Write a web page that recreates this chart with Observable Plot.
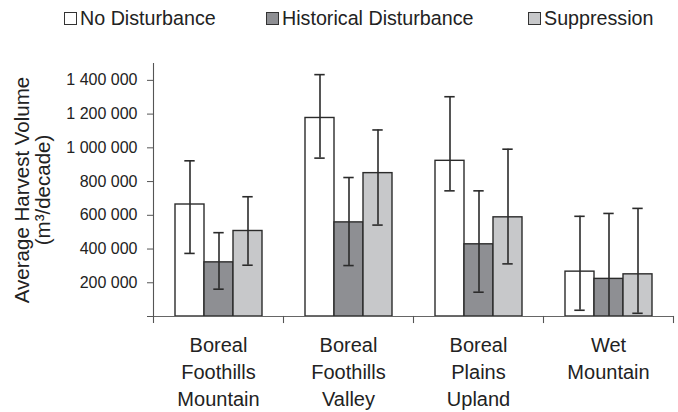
<!DOCTYPE html>
<html>
<head>
<meta charset="utf-8">
<script src="https://cdn.jsdelivr.net/npm/d3@7"></script>
<script src="https://cdn.jsdelivr.net/npm/@observablehq/plot@0.6"></script>
<style>
  body { margin: 0; background: #fff; font-family: "Liberation Sans", Arial, sans-serif; }
  #legend { position: relative; height: 40px; font-size: 19.7px; line-height: 19px; color: #222; white-space: nowrap; }
  #legend .item { position: absolute; top: 9px; }
  #legend .sw { display: inline-block; width: 13px; height: 13px; box-sizing: border-box; border: 1.3px solid #333; margin-right: 3px; vertical-align: baseline; }
</style>
</head>
<body>
<div id="legend"></div>
<div id="chart"></div>
<script>
// ---- data ----
const categories = ["Boreal\nFoothills\nMountain", "Boreal\nFoothills\nValley", "Boreal\nPlains\nUpland", "Wet\nMountain"];
const series = ["No Disturbance", "Historical Disturbance", "Suppression"];
const colors = ["#ffffff", "#8e8f93", "#c7c8ca"];

const meanNoDisturbance = [664000, 1177000, 923000, 266000];
const meanHistorical    = [321000, 558000, 428000, 223000];
const meanSuppression   = [507000, 850000, 588000, 250000];

const upperNoDisturbance = [923000, 1434000, 1303000, 594000];
const upperHistorical    = [497000, 824000, 745000, 611000];
const upperSuppression   = [710000, 1106000, 992000, 641000];

const lowerNoDisturbance = [374000, 939000, 745000, 37000];
const lowerHistorical    = [162000, 302000, 144000, -150000];
const lowerSuppression   = [304000, 542000, 312000, 19000];

const yTicks = [0, 200000, 400000, 600000, 800000, 1000000, 1200000, 1400000];
const yTitle = "Average Harvest Volume\n(m³/decade)";

const means = [meanNoDisturbance, meanHistorical, meanSuppression];
const uppers = [upperNoDisturbance, upperHistorical, upperSuppression];
const lowers = [lowerNoDisturbance, lowerHistorical, lowerSuppression];

const data = series.flatMap((s, si) => categories.map((c, ci) => ({
  category: c, series: s, mean: means[si][ci], upper: uppers[si][ci], lower: lowers[si][ci]
})));

// ---- legend ----
const legendLeft = [64, 266, 528];
const legend = document.getElementById("legend");
series.forEach((s, i) => {
  const item = document.createElement("span");
  item.className = "item";
  item.style.left = legendLeft[i] + "px";
  const sw = document.createElement("span");
  sw.className = "sw";
  sw.style.background = colors[i];
  item.appendChild(sw);
  item.appendChild(document.createTextNode(s));
  legend.appendChild(item);
});

// ---- chart ----
const fmt = d3.formatLocale({decimal: ".", thousands: " ", grouping: [3], currency: ["", ""]}).format(",");
const W = 678, H = 372, mT = 23, mB = 96, mL = 153, mR = 5;
const ink = "#2b2b2b";

const chart = Plot.plot({
  width: W, height: H,
  marginTop: mT, marginBottom: mB, marginLeft: mL, marginRight: mR,
  style: {fontFamily: "'Liberation Sans', Arial, sans-serif", background: "#fff", color: "#222"},
  fx: {domain: categories, padding: 0, axis: null},
  x: {domain: series, paddingInner: 0, paddingOuter: 0.7, axis: null},
  y: {domain: [0, 1500000], axis: null},
  color: {domain: series, range: colors},
  marks: [
    Plot.barY(data, {fx: "category", x: "series", y: "mean", fill: "series", stroke: ink, strokeWidth: 1.4}),
    Plot.ruleX(data, {fx: "category", x: "series", y1: "lower", y2: "upper", stroke: ink, strokeWidth: 1.6, clip: true}),
    Plot.tickY(data, {fx: "category", x: "series", y: "upper", stroke: ink, strokeWidth: 1.6, insetLeft: 9.3, insetRight: 9.3, clip: true}),
    Plot.tickY(data, {fx: "category", x: "series", y: "lower", stroke: ink, strokeWidth: 1.6, insetLeft: 9.3, insetRight: 9.3, clip: true}),
    Plot.ruleY([0], {stroke: "#666", strokeWidth: 1.2}),
    Plot.frame({anchor: "right", stroke: "#555", strokeWidth: 1.1, insetTop: H - mT - mB, insetBottom: -6}),
    Plot.frame({anchor: "left", facetAnchor: "left", stroke: "#555", strokeWidth: 1.1, insetBottom: -6}),
    Plot.axisY({ticks: yTicks, tickSize: 6, tickPadding: 10, fontSize: 16, tickFormat: d => d === 0 ? "" : fmt(d), label: null, color: "#555", fill: "#222"}),
    Plot.axisFx({anchor: "bottom", tickSize: 0, tickPadding: 16, fontSize: 20, lineHeight: 1.35, label: null, fill: "#222"}),
    Plot.text([yTitle], {frameAnchor: "left", facetAnchor: "left", rotate: -90, textAnchor: "middle", lineAnchor: "top", fontSize: 20.5, lineHeight: 1.02, dx: -139, fill: "#222"})
  ]
});
document.getElementById("chart").appendChild(chart);
</script>
</body>
</html>
